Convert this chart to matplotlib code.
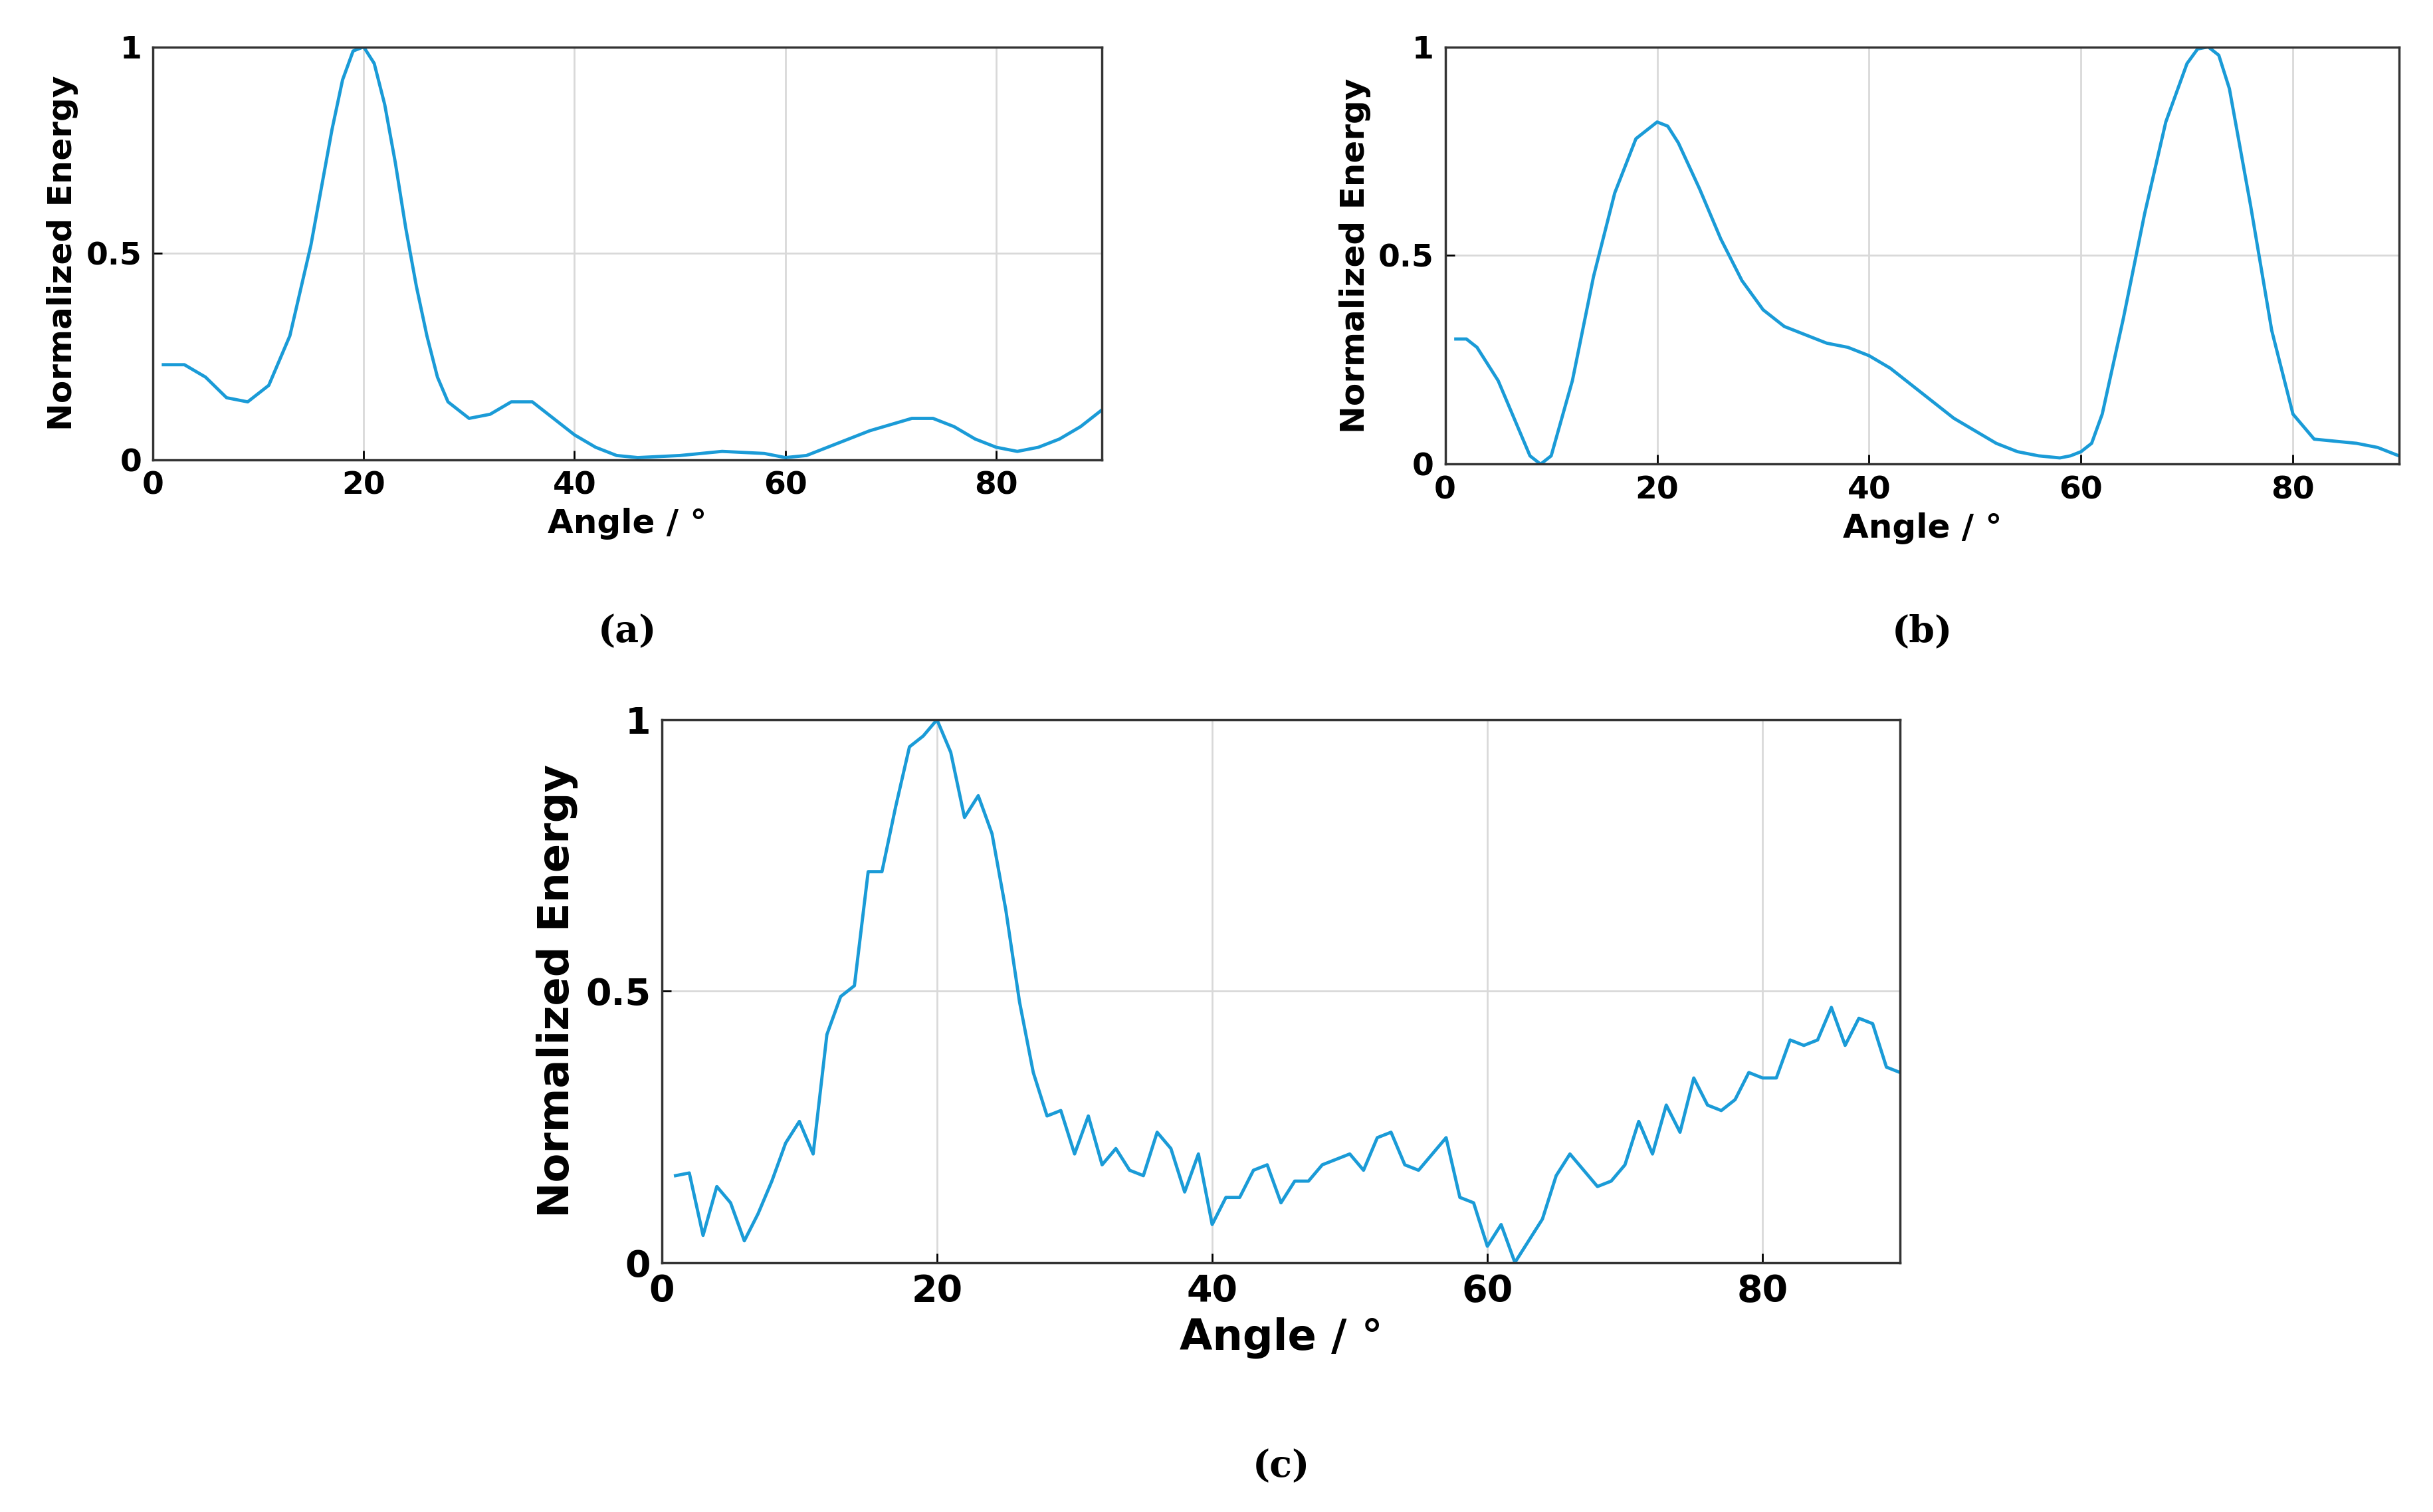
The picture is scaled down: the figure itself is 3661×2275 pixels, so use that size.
import matplotlib
matplotlib.use("Agg")
import matplotlib.pyplot as plt

a_x = [1,3,5,7,9,11,13,15,16,17,18,19,20,21,22,23,24,25,26,27,28,30,32,34,36,38,40,42,44,46,50,54,58,60,62,64,68,72,74,76,78,80,82,84,86,88,90]
a_y = [0.23,0.23,0.20,0.15,0.14,0.18,0.30,0.52,0.66,0.80,0.92,0.99,1.0,0.96,0.86,0.72,0.56,0.42,0.30,0.20,0.14,0.10,0.11,0.14,0.14,0.10,0.06,0.03,0.01,0.005,0.01,0.02,0.015,0.005,0.01,0.03,0.07,0.10,0.10,0.08,0.05,0.03,0.02,0.03,0.05,0.08,0.12]

b_x = [1,2,3,5,7,8,9,10,12,14,16,18,20,21,22,24,26,28,30,32,34,36,38,40,42,44,46,48,50,52,54,56,58,59,60,61,62,64,66,68,70,71,72,73,74,76,78,80,82,84,86,88,90]
b_y = [0.30,0.30,0.28,0.20,0.08,0.02,0.0,0.02,0.20,0.45,0.65,0.78,0.82,0.81,0.77,0.66,0.54,0.44,0.37,0.33,0.31,0.29,0.28,0.26,0.23,0.19,0.15,0.11,0.08,0.05,0.03,0.02,0.015,0.02,0.03,0.05,0.12,0.35,0.60,0.82,0.96,0.995,1.0,0.98,0.90,0.62,0.32,0.12,0.06,0.055,0.05,0.04,0.02]

c_x = list(range(1, 91))
c_y = [0.16,0.165,0.05,0.14,0.11,0.04,0.09,0.15,0.22,0.26,0.20,0.42,0.49,0.51,0.72,0.72,0.84,0.95,0.97,1.0,
       0.94,0.82,0.86,0.79,0.65,0.48,0.35,0.27,0.28,0.20,0.27,0.18,0.21,0.17,0.16,0.24,0.21,0.13,0.20,0.07,
       0.12,0.12,0.17,0.18,0.11,0.15,0.15,0.18,0.19,0.20,0.17,0.23,0.24,0.18,0.17,0.20,0.23,0.12,0.11,0.03,
       0.07,0.0,0.04,0.08,0.16,0.20,0.17,0.14,0.15,0.18,0.26,0.20,0.29,0.24,0.34,0.29,0.28,0.30,0.35,0.34,
       0.34,0.41,0.40,0.41,0.47,0.40,0.45,0.44,0.36,0.35]

x_ticks = [0, 20, 40, 60, 80]
y_ticks = [0, 0.5, 1]
y_labels = ["0", "0.5", "1"]
color = "#1a9bd7"

fig = plt.figure(figsize=(36.61, 22.75), dpi=100)

def panel(rect, x, y, tick_fs, lab_fs, lw, letter, letter_y):
    ax = fig.add_axes(rect)
    ax.plot(x, y, color=color, lw=lw)
    ax.set_xlim(0, 90)
    ax.set_ylim(0, 1)
    ax.set_xticks(x_ticks)
    ax.set_yticks(y_ticks)
    ax.set_yticklabels(y_labels)
    ax.grid(True, color="#d9d9d9", lw=2)
    ax.tick_params(direction="in", length=10, width=2, labelsize=tick_fs, pad=12)
    for lab in ax.get_xticklabels() + ax.get_yticklabels():
        lab.set_fontweight("bold")
    for s in ax.spines.values():
        s.set_linewidth(2.5)
        s.set_color("#333333")
    ax.set_xlabel("Angle / °", fontsize=lab_fs, fontweight="bold", labelpad=8)
    ax.set_ylabel("Normalized Energy", fontsize=lab_fs, fontweight="bold", labelpad=8)
    cx = rect[0] + rect[2] / 2
    fig.text(cx, letter_y, letter, ha="center", va="center", fontsize=40,
             family="DejaVu Serif", fontweight="bold")
    return ax

panel([0.0628, 0.696, 0.390, 0.273], a_x, a_y, 34, 36, 3.5, "(a)", 0.582)
panel([0.594, 0.693, 0.392, 0.276], b_x, b_y, 34, 36, 3.5, "(b)", 0.582)
panel([0.272, 0.165, 0.509, 0.359], c_x, c_y, 40, 46, 3.5, "(c)", 0.030)

fig.savefig("out.png", dpi=100)
